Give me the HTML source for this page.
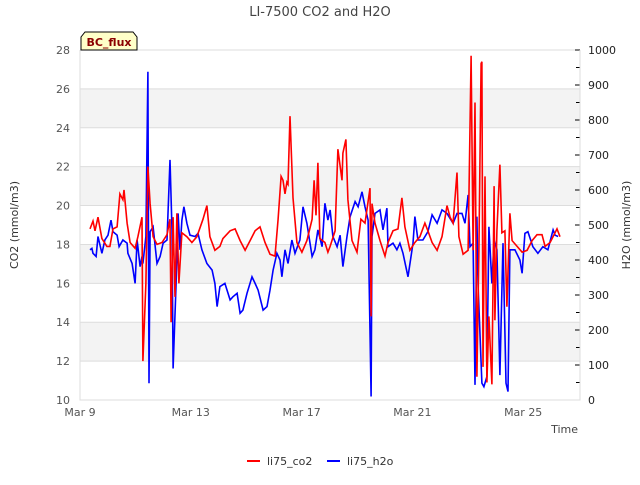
<!DOCTYPE html>
<html><head><meta charset="utf-8"><style>
body{margin:0;background:#fff;font-family:"Liberation Sans","DejaVu Sans",sans-serif}
</style></head><body>
<svg id="chart" width="640" height="480" xmlns="http://www.w3.org/2000/svg" font-family="DejaVu Sans, Liberation Sans, sans-serif">
<text x="320" y="16" text-anchor="middle" font-size="13" fill="#444">LI-7500 CO2 and H2O</text>
<g id="bands"></g>
<g id="grid"></g>
<g id="series"></g>
<g id="axes"></g>
<g>
<path d="M81,50 L81,37 L85,32 L133,32 L137,37 L137,50 Z" fill="#ffffc8" stroke="#000" stroke-width="1"/>
<text x="109" y="46" text-anchor="middle" font-size="11" font-weight="bold" fill="#8b0000">BC_flux</text>
</g>
<text transform="translate(18,225) rotate(-90)" text-anchor="middle" font-size="11" fill="#333">CO2 (mmol/m3)</text>
<text transform="translate(630,225) rotate(-90)" text-anchor="middle" font-size="11" fill="#333">H2O (mmol/m3)</text>
<text x="578" y="433" text-anchor="end" font-size="11" fill="#444">Time</text>
<g>
<g><line x1="247" y1="461" x2="260" y2="461" stroke="#f00" stroke-width="2"/><text x="267" y="465" font-size="11" fill="#333">li75_co2</text></g>
<g><line x1="327" y1="461" x2="340" y2="461" stroke="#00f" stroke-width="2"/><text x="347" y="465" font-size="11" fill="#333">li75_h2o</text></g>
</g>
</svg>
<script>
const co2Days=[.36,.47,.54,.65,.79,.97,1.08,1.19,1.34,1.44,1.55,1.59,1.70,1.81,1.99,2.09,2.24,2.27,2.38,2.45,2.53,2.64,2.78,2.96,3.14,3.25,3.29,3.36,3.43,3.50,3.57,3.68,3.86,4.04,4.22,4.44,4.58,4.69,4.87,5.05,5.16,5.42,5.60,5.78,5.96,6.14,6.32,6.50,6.68,6.86,7.04,7.15,7.26,7.33,7.40,7.47,7.51,7.58,7.69,7.83,8.01,8.19,8.38,8.45,8.52,8.59,8.66,8.84,8.95,9.03,9.21,9.31,9.46,9.49,9.60,9.67,9.82,10.00,10.14,10.29,10.47,10.51,10.54,10.65,10.83,11.01,11.12,11.30,11.48,11.62,11.73,11.91,12.09,12.27,12.45,12.56,12.71,12.89,13.07,13.25,13.36,13.47,13.61,13.68,13.83,14.01,14.12,14.19,14.26,14.33,14.40,14.48,14.51,14.55,14.62,14.69,14.76,14.87,14.95,14.98,15.05,15.16,15.23,15.34,15.41,15.52,15.60,15.78,15.96,16.14,16.32,16.50,16.68,16.79,16.97,17.22,17.33];
const co2Values=[18.8,19.2,18.7,19.4,18.3,17.9,17.9,18.8,18.9,20.6,20.3,20.8,19.1,18.1,17.8,18.4,19.4,12.0,16.0,22.0,20.1,18.4,18.0,18.1,18.5,19.3,14.0,19.4,15.3,19.6,16.0,18.6,18.4,18.1,18.4,19.3,20.0,18.4,17.7,17.9,18.3,18.7,18.8,18.2,17.7,18.2,18.7,18.9,18.1,17.5,17.4,19.3,21.5,21.3,20.6,21.2,21.1,24.6,20.4,18.1,17.6,18.2,19.3,21.3,19.5,22.2,18.3,18.1,17.6,17.9,18.7,22.9,21.3,22.7,23.4,20.3,18.2,17.6,19.3,19.1,20.9,14.3,20.1,19.1,18.2,17.4,18.1,18.7,18.8,20.4,18.9,17.7,18.1,18.4,19.1,18.7,18.1,17.7,18.4,20.0,19.4,19.1,21.7,18.4,17.5,17.7,27.7,17.7,25.3,11.2,17.7,27.3,27.4,11.7,21.5,10.9,14.3,10.8,21.0,14.1,18.7,22.1,18.6,18.7,14.8,19.6,18.2,17.9,17.6,17.7,18.2,18.5,18.5,17.9,18.1,18.8,18.4];
const h2oDays=[.36,.43,.47,.58,.65,.79,.90,1.01,1.12,1.19,1.34,1.41,1.55,1.70,1.73,1.88,1.99,2.06,2.17,2.24,2.27,2.38,2.45,2.49,2.53,2.64,2.78,2.89,3.00,3.14,3.25,3.32,3.36,3.47,3.54,3.61,3.68,3.75,3.86,3.97,4.15,4.26,4.40,4.58,4.77,4.87,4.95,5.05,5.23,5.42,5.52,5.67,5.78,5.88,6.03,6.21,6.32,6.43,6.61,6.75,6.86,6.97,7.11,7.22,7.29,7.40,7.51,7.65,7.76,7.94,8.05,8.19,8.38,8.48,8.59,8.74,8.84,8.95,9.03,9.13,9.28,9.39,9.49,9.64,9.75,9.93,10.04,10.18,10.29,10.40,10.51,10.54,10.65,10.83,10.94,11.08,11.12,11.30,11.44,11.55,11.66,11.84,12.02,12.09,12.20,12.38,12.56,12.71,12.89,13.07,13.25,13.47,13.61,13.79,13.90,14.01,14.08,14.19,14.26,14.33,14.37,14.51,14.58,14.69,14.76,14.87,14.95,15.05,15.16,15.27,15.38,15.45,15.52,15.70,15.88,15.96,16.06,16.17,16.35,16.53,16.71,16.89,17.08,17.15,17.26];
const h2oValues=[429,433,419,410,467,419,457,471,514,481,471,438,457,448,419,390,333,457,381,410,390,467,938,48,481,495,390,410,448,457,686,486,90,333,533,429,514,552,505,471,467,476,429,390,371,333,267,324,333,286,295,305,248,257,305,352,333,314,257,267,314,371,419,400,352,429,390,457,419,457,552,505,410,429,486,438,562,514,543,467,438,471,381,467,524,567,552,595,552,514,10,467,533,543,486,548,438,448,429,448,419,352,448,524,457,457,481,529,505,543,533,505,533,533,505,586,438,448,43,524,333,48,38,67,495,333,457,429,71,448,48,24,429,429,400,362,476,481,438,419,438,429,486,471,467];
const co2Ticks=[10,12,14,16,18,20,22,24,26,28];
const h2oTicks=[0,100,200,300,400,500,600,700,800,900,1000];
const dateTicks=[0,4,8,12,16];
const dateLabels=["Mar 9","Mar 13","Mar 17","Mar 21","Mar 25"];

const L=80,R=580,T=50,B=400,NS="http://www.w3.org/2000/svg";
const xS=d=>L+d*27.7;
const yC=v=>B-(v-10)/18*(B-T);
const yH=v=>B-v/1000*(B-T);
function mk(tag,attrs,parent){const e=document.createElementNS(NS,tag);for(const k in attrs)e.setAttribute(k,attrs[k]);document.getElementById(parent).appendChild(e);return e;}
// bands
for(let i=0;i<co2Ticks.length-1;i++){
  if(i%2===1){const b=mk('rect',{x:L,y:yC(co2Ticks[i+1]),width:R-L,height:yC(co2Ticks[i])-yC(co2Ticks[i+1]),fill:'#f3f3f3'},'bands');
  
  }
}
co2Ticks.forEach(v=>{
  const g=mk('line',{x1:L,x2:R,y1:yC(v),y2:yC(v),stroke:'#dddddd','stroke-width':1},'grid');
  
  
  const t=mk('text',{x:L-10,y:yC(v)+4,'text-anchor':'end','font-size':11,fill:'#555'},'axes');
  t.textContent=v;
  
  
});
h2oTicks.forEach(v=>{
  const t=mk('text',{x:R+8,y:yH(v)+4,'font-size':11,fill:'#222'},'axes');
  t.textContent=v;
  
  
  mk('line',{x1:R-5,x2:R,y1:yH(v),y2:yH(v),stroke:'#000'},'axes');
  if(v<1000)mk('line',{x1:R-4,x2:R,y1:yH(v+50),y2:yH(v+50),stroke:'#000'},'axes');
});
dateTicks.forEach((d,i)=>{
  const t=mk('text',{x:xS(d),y:B+16,'text-anchor':'middle','font-size':11,fill:'#555'},'axes');
  t.textContent=dateLabels[i];
  
  
});
const fr=mk('path',{d:`M${L},${T} L${L},${B} L${R},${B} L${R},${T}`,fill:'none',stroke:'#dddddd'},'axes');


const p1=mk('path',{d:co2Days.map((d,i)=>(i?'L':'M')+xS(d).toFixed(1)+','+yC(co2Values[i]).toFixed(1)).join(''),fill:'none',stroke:'#ff0000','stroke-width':1.6},'series');


const p2=mk('path',{d:h2oDays.map((d,i)=>(i?'L':'M')+xS(d).toFixed(1)+','+yH(h2oValues[i]).toFixed(1)).join(''),fill:'none',stroke:'#0000ff','stroke-width':1.6},'series');


document.getElementById('series').insertBefore(p2,p1);
</script>
</body></html>
